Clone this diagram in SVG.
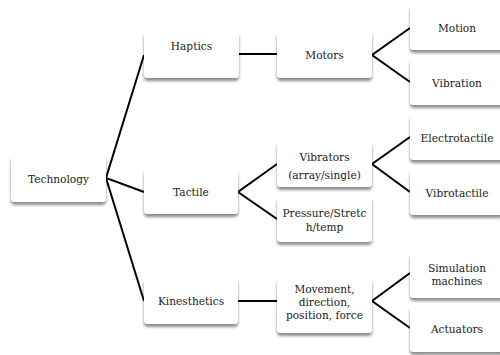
<svg xmlns="http://www.w3.org/2000/svg" width="500" height="355" viewBox="0 0 500 355">
<defs>
<filter id="sh" x="-20%" y="-20%" width="140%" height="160%">
<feDropShadow dx="0" dy="3" stdDeviation="1.8" flood-color="#000" flood-opacity="0.45"/>
</filter>
<style>
.box{fill:#fff;filter:url(#sh)}
.t{font-family:'DejaVu Serif',serif;font-size:10.6px;fill:#222;text-anchor:middle}
.c{fill:none;stroke:#000;stroke-width:2}
</style>
</defs>
<rect width="500" height="355" fill="#fff"/>
<g id="connectors">
<polyline class="c" points="144,55 106,178 144,192"/>
<line class="c" x1="106" y1="178" x2="144" y2="301"/>
<line class="c" x1="239" y1="54" x2="277" y2="54"/>
<polyline class="c" points="410,28 372,55 410,82"/>
<polyline class="c" points="277,164 238,192 277,219"/>
<polyline class="c" points="410,137 372,164 410,192"/>
<line class="c" x1="238" y1="301" x2="277" y2="301"/>
<polyline class="c" points="410,273 372,301 410,328"/>
</g>
<g id="technology"><rect class="box" x="11" y="155" width="95" height="47" rx="4"/><text class="t" x="58.5" y="182.5">Technology</text></g>
<g id="haptics"><rect class="box" x="144" y="31" width="95" height="47" rx="4"/><text class="t" x="191.5" y="49.5">Haptics</text></g>
<g id="tactile"><rect class="box" x="144" y="169" width="94" height="45" rx="4"/><text class="t" x="191" y="196">Tactile</text></g>
<g id="kinesthetics"><rect class="box" x="144" y="278" width="94" height="46" rx="4"/><text class="t" x="191" y="305">Kinesthetics</text></g>
<g id="motors"><rect class="box" x="277" y="31" width="95" height="47" rx="4"/><text class="t" x="324.5" y="59">Motors</text></g>
<g id="vibrators"><rect class="box" x="277" y="141" width="95" height="46" rx="4"/><text class="t" x="324.5" y="160.5">Vibrators</text><text class="t" x="324.5" y="179">(array/single)</text></g>
<g id="pressure"><rect class="box" x="277" y="196" width="95" height="46" rx="4"/><text class="t" x="324.5" y="217">Pressure/Stretc</text><text class="t" x="324.5" y="231">h/temp</text></g>
<g id="movement"><rect class="box" x="277" y="278" width="95" height="55" rx="4"/><text class="t" x="324.5" y="293">Movement,</text><text class="t" x="324.5" y="306">direction,</text><text class="t" x="324.5" y="319">position, force</text></g>
<g id="motion"><rect class="box" x="410" y="4" width="94" height="46" rx="4"/><text class="t" x="457" y="32">Motion</text></g>
<g id="vibration"><rect class="box" x="410" y="59" width="94" height="46" rx="4"/><text class="t" x="457" y="86.5">Vibration</text></g>
<g id="electrotactile"><rect class="box" x="410" y="115" width="94" height="45" rx="4"/><text class="t" x="457" y="141.5">Electrotactile</text></g>
<g id="vibrotactile"><rect class="box" x="410" y="169" width="94" height="46" rx="4"/><text class="t" x="457" y="196.5">Vibrotactile</text></g>
<g id="simulation"><rect class="box" x="410" y="252" width="94" height="46" rx="4"/><text class="t" x="457" y="271.5">Simulation</text><text class="t" x="457" y="285">machines</text></g>
<g id="actuators"><rect class="box" x="410" y="306" width="94" height="46" rx="4"/><text class="t" x="457" y="332.5">Actuators</text></g>
</svg>
